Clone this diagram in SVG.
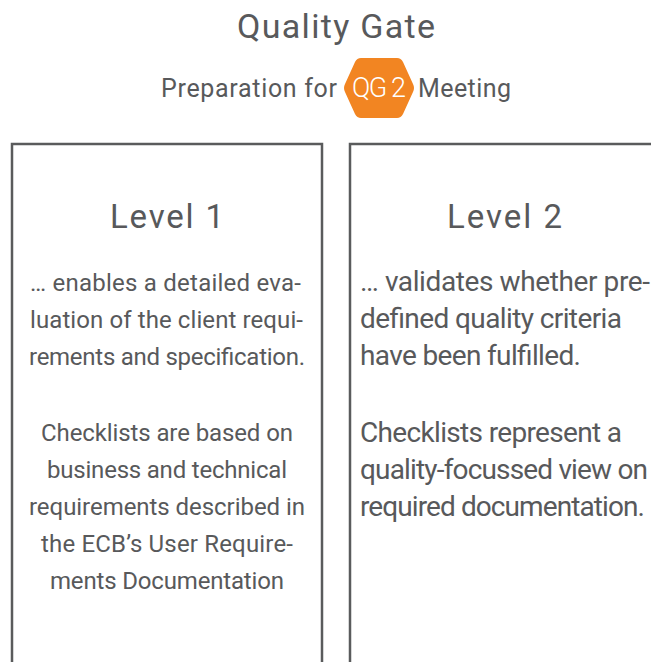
<svg xmlns="http://www.w3.org/2000/svg" width="651" height="662" viewBox="0 0 651 662">
<style>
.t{font-family:Roboto,"Liberation Sans",sans-serif;fill:#58595b}
.h{font-size:33px}
.l{font-size:24px}
.r{font-size:28px}
.box{fill:none;stroke:#5a5b5c;stroke-width:2.5}
</style>
<rect width="651" height="662" fill="#fff"/>
<g id="header">
<text class="t" x="237" y="38" font-size="34" textLength="198" lengthAdjust="spacing">Quality Gate</text>
<text class="t" x="161" y="97" font-size="25" textLength="176" lengthAdjust="spacing">Preparation for</text>
<path d="M361,58 L397,58 Q401,58 403,62 L413,84 Q415,88 413,92 L403,114 Q401,118 397,118 L361,118 Q357,118 355,114 L345,92 Q343,88 345,84 L355,62 Q357,58 361,58 Z" fill="#f28522"/>
<text x="352" y="97" font-family="Roboto,'Liberation Sans',sans-serif" font-weight="300" font-size="27" fill="#fff" textLength="54" lengthAdjust="spacing">QG 2</text>
<text class="t" x="418" y="97" font-size="25" textLength="93" lengthAdjust="spacing">Meeting</text>
</g>
<g id="level1">
<rect class="box" x="12" y="144" width="310" height="530"/>
<text class="t h" x="110" y="228" textLength="114" lengthAdjust="spacing">Level 1</text>
<text class="t l" x="30" y="291" textLength="271" lengthAdjust="spacing">… enables a detailed eva-</text>
<text class="t l" x="30" y="328" textLength="273" lengthAdjust="spacing">luation of the client requi-</text>
<text class="t l" x="29" y="365" textLength="276" lengthAdjust="spacing">rements and specification.</text>
<text class="t l" x="41" y="441" textLength="252" lengthAdjust="spacing">Checklists are based on</text>
<text class="t l" x="47" y="478" textLength="240" lengthAdjust="spacing">business and technical</text>
<text class="t l" x="29" y="515" textLength="276" lengthAdjust="spacing">requirements described in</text>
<text class="t l" x="41" y="552" textLength="252" lengthAdjust="spacing">the ECB’s User Require-</text>
<text class="t l" x="50" y="589" textLength="234" lengthAdjust="spacing">ments Documentation</text>
</g>
<g id="level2">
<rect class="box" x="350" y="144" width="320" height="530"/>
<text class="t h" x="447" y="228" textLength="115" lengthAdjust="spacing">Level 2</text>
<text class="t r" x="360" y="291" textLength="290" lengthAdjust="spacing">… validates whether pre-</text>
<text class="t r" x="360" y="328" textLength="262" lengthAdjust="spacing">defined quality criteria</text>
<text class="t r" x="360" y="365" textLength="221" lengthAdjust="spacing">have been fulfilled.</text>
<text class="t r" x="360" y="442" textLength="262" lengthAdjust="spacing">Checklists represent a</text>
<text class="t r" x="360" y="479" textLength="288" lengthAdjust="spacing">quality-focussed view on</text>
<text class="t r" x="360" y="516" textLength="285" lengthAdjust="spacing">required documentation.</text>
</g>
</svg>
